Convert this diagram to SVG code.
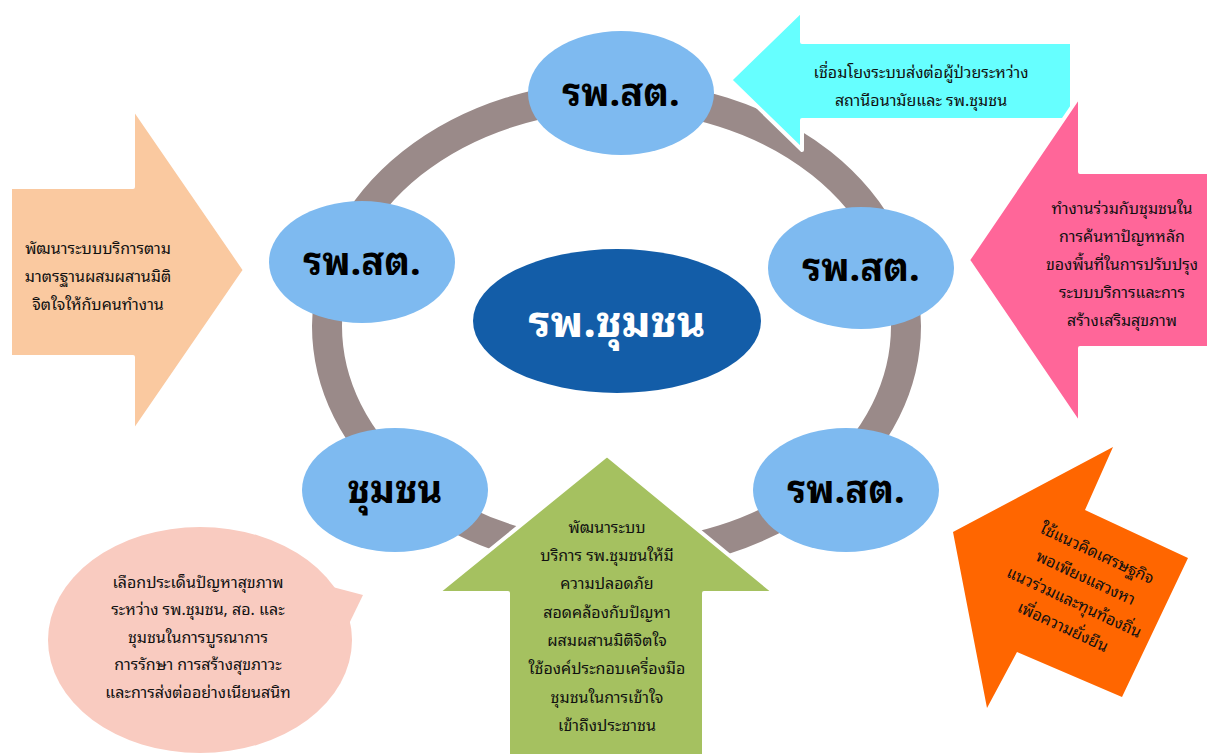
<svg xmlns="http://www.w3.org/2000/svg" width="1207" height="754" viewBox="0 0 1207 754">
<style>
.t{font-family:"Noto Sans Thai Looped","Loma","Garuda","Noto Sans Thai","Tahoma","DejaVu Sans","Liberation Sans",sans-serif;font-size:16px;fill:#111;text-anchor:middle}
.lbl{font-family:"Noto Sans Thai Looped","Loma","Garuda","Noto Sans Thai","Tahoma","DejaVu Sans","Liberation Sans",sans-serif;font-size:38px;font-weight:bold;fill:#000;text-anchor:middle}
.node{fill:#7EBAF0}
.arr{stroke:#fff;stroke-width:4;stroke-linejoin:round}
</style>
<rect width="1207" height="754" fill="#fff"/>
<g id="connectors">
<ellipse cx="616.5" cy="326" rx="289.5" ry="230" fill="none" stroke="#9A8A89" stroke-width="30"/>
</g>
<g id="node-center">
<ellipse cx="617" cy="321" rx="144" ry="72" fill="#135DA8"/>
<text x="617" y="337" class="lbl" style="fill:#fff;font-size:44px">รพ.ชุมชน</text>
</g>
<g id="node-top"><ellipse class="node" cx="621" cy="93" rx="93" ry="62"/><text class="lbl" x="621" y="106">รพ.สต.</text></g>
<g id="node-left"><ellipse class="node" cx="362" cy="262" rx="93" ry="61"/><text class="lbl" x="362" y="275">รพ.สต.</text></g>
<g id="node-right"><ellipse class="node" cx="861" cy="268" rx="93" ry="61"/><text class="lbl" x="861" y="281">รพ.สต.</text></g>
<g id="node-community"><ellipse class="node" cx="395" cy="490" rx="93" ry="62"/><text class="lbl" x="395" y="503">ชุมชน</text></g>
<g id="node-bottomright"><ellipse class="node" cx="846" cy="490" rx="93" ry="62"/><text class="lbl" x="846" y="503">รพ.สต.</text></g>

<g id="arrow-cyan">
<polygon class="arr" fill="#66FFFF" points="730,80 802,10 802,42 1072,42 1072,120 802,120 802,150"/>
<text class="t" x="921" y="78">เชื่อมโยงระบบส่งต่อผู้ป่วยระหว่าง</text>
<text class="t" x="921" y="106">สถานีอนามัยและ รพ.ชุมชน</text>
</g>
<g id="arrow-pink">
<polygon class="arr" fill="#FF6699" points="968,260 1080,95 1080,172 1209,172 1209,348 1080,348 1080,425"/>
<text class="t" x="1122" y="214">ทำงานร่วมกับชุมชนใน</text>
<text class="t" x="1122" y="242">การค้นหาปัญหหลัก</text>
<text class="t" x="1122" y="270">ของพื้นที่ในการปรับปรุง</text>
<text class="t" x="1122" y="298">ระบบบริการและการ</text>
<text class="t" x="1122" y="326">สร้างเสริมสุขภาพ</text>
</g>
<g id="arrow-peach">
<polygon class="arr" fill="#FAC9A0" points="10,187 133,187 133,107 245,270 133,433 133,357 10,357"/>
<text class="t" x="98" y="254">พัฒนาระบบบริการตาม</text>
<text class="t" x="98" y="282">มาตรฐานผสมผสานมิติ</text>
<text class="t" x="98" y="310">จิตใจให้กับคนทำงาน</text>
</g>
<g id="bubble">
<ellipse cx="200" cy="640" rx="152" ry="113" fill="#F9CBC0"/>
<polygon fill="#F9CBC0" points="325,585 363,595 346,630 320,620"/>
<text class="t" x="198" y="588">เลือกประเด็นปัญหาสุขภาพ</text>
<text class="t" x="198" y="615">ระหว่าง รพ.ชุมชน, สอ. และ</text>
<text class="t" x="198" y="643">ชุมชนในการบูรณาการ</text>
<text class="t" x="198" y="670">การรักษา การสร้างสุขภาวะ</text>
<text class="t" x="198" y="698">และการส่งต่ออย่างเนียนสนิท</text>
</g>
<g id="arrow-green">
<polygon class="arr" fill="#A5C160" points="607,455 775,593 704,593 704,758 508,758 508,593 437,593"/>
<text class="t" x="607" y="533">พัฒนาระบบ</text>
<text class="t" x="607" y="561">บริการ รพ.ชุมชนให้มี</text>
<text class="t" x="607" y="589">ความปลอดภัย</text>
<text class="t" x="607" y="618">สอดคล้องกับปัญหา</text>
<text class="t" x="607" y="646">ผสมผสานมิติจิตใจ</text>
<text class="t" x="607" y="674">ใช้องค์ประกอบเครื่องมือ</text>
<text class="t" x="607" y="703">ชุมชนในการเข้าใจ</text>
<text class="t" x="607" y="731">เข้าถึงประชาชน</text>
</g>
<g id="arrow-orange">
<polygon fill="#FF6600" points="953,532 1113,447 1085,510 1188,558 1122,697 1017,652 987,708"/>
<g transform="translate(1080,590) rotate(25)">
<text class="t" x="0" y="-35">ใช้แนวคิดเศรษฐกิจ</text>
<text class="t" x="0" y="-8">พอเพียงแสวงหา</text>
<text class="t" x="0" y="19">แนวร่วมและทุนท้องถิ่น</text>
<text class="t" x="0" y="46">เพื่อความยั่งยืน</text>
</g>
</g>
</svg>
